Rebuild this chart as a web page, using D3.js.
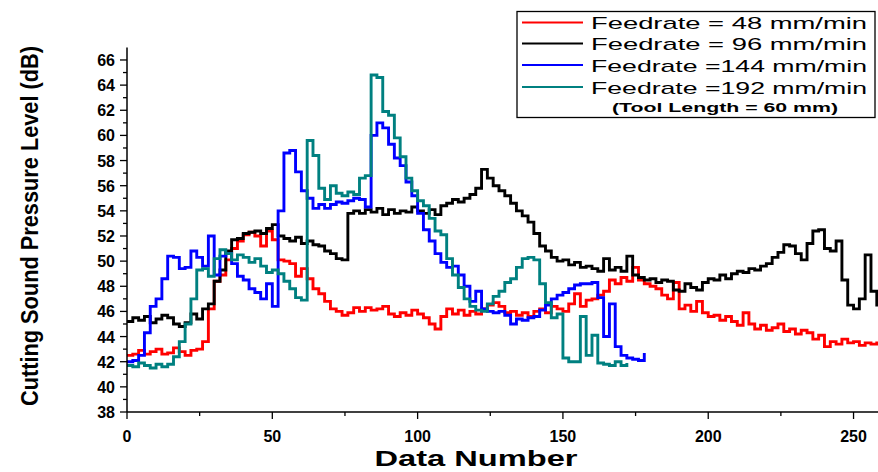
<!DOCTYPE html>
<html><head><meta charset="utf-8">
<script src="https://cdn.jsdelivr.net/npm/d3@7"></script>
<style>body{margin:0;background:#fff}svg{display:block}</style>
</head><body>
<svg id="c" width="878" height="472"></svg>
<script>
// Data (sampled every 2 data numbers)
const step = 2;
const red48 = [42.5,42.6,42.9,42.6,42.8,43.0,42.6,42.7,43.1,42.8,42.5,42.9,43.0,43.6,46.2,48.4,48.9,50.1,51.0,51.6,
52.1,52.3,52.0,51.2,52.4,51.7,50.1,50.0,49.8,48.8,49.4,48.6,47.8,47.4,46.8,46.2,46.0,45.7,45.9,46.3,
46.0,46.3,46.1,46.2,46.4,45.8,45.6,45.9,45.7,46.1,45.8,45.5,45.0,44.6,45.6,46.2,45.8,46.1,45.7,46.0,
45.8,46.2,46.5,46.7,46.4,45.9,46.0,45.7,45.9,45.6,46.0,46.2,45.9,46.4,46.2,46.0,46.6,47.4,46.4,46.9,
47.0,47.3,47.6,48.5,48.2,48.7,48.4,49.5,48.5,48.2,48.0,47.8,47.3,47.0,48.3,46.2,46.5,46.0,46.8,45.9,
45.6,45.7,45.3,45.6,45.2,44.9,45.9,45.0,44.6,44.9,44.5,44.7,45.0,44.4,44.6,44.2,44.5,44.3,43.8,44.1,
43.2,43.6,43.4,43.8,43.5,43.6,43.3,43.5,43.4,43.6];
const black96 = [45.2,45.5,45.3,45.6,45.1,45.4,45.7,45.5,45.0,44.8,45.1,45.8,45.4,46.2,46.6,48.4,49.3,50.8,51.7,51.8,
52.2,52.3,52.4,52.2,52.6,52.9,52.0,51.8,51.6,51.9,51.4,51.6,51.3,51.2,50.8,50.6,50.2,50.1,53.8,54.0,
53.8,54.1,53.9,54.2,53.7,54.1,53.8,54.0,53.9,54.3,54.0,53.8,54.1,53.7,54.4,54.6,54.9,54.7,55.0,55.3,
55.8,57.3,56.6,56.0,55.6,55.2,54.6,54.0,53.6,53.1,52.2,51.2,50.8,50.3,50.0,50.1,49.7,49.9,49.5,49.6,
49.4,49.2,50.2,49.3,49.5,49.2,50.4,48.9,48.7,48.5,48.6,48.3,48.5,48.4,47.7,47.6,48.2,47.9,47.7,48.3,
48.6,48.5,48.9,48.6,49.0,49.2,49.1,49.4,49.3,49.6,49.8,50.3,50.7,51.3,51.2,50.6,50.1,51.4,52.4,52.5,
51.0,50.8,51.6,48.5,46.5,46.2,47.0,50.5,47.6,46.4];
const blue144 = [42.0,42.1,42.5,44.3,46.4,47.0,48.6,50.4,50.3,49.4,49.5,50.8,50.3,49.6,52.0,48.9,50.4,50.6,49.8,48.8,
48.5,47.8,47.5,47.0,48.2,46.4,54.0,58.6,58.8,57.1,55.6,55.0,54.2,54.5,54.2,54.5,54.7,54.6,54.8,55.0,
54.9,54.3,60.0,61.0,60.6,59.3,58.2,57.6,56.3,55.2,53.8,52.5,51.6,50.6,49.9,49.5,49.6,48.9,48.0,46.8,
47.6,46.2,46.0,45.9,46.0,45.7,45.0,45.4,45.3,45.5,45.6,46.1,46.5,47.0,47.3,47.5,47.8,48.1,48.2,48.2,
48.3,47.1,44.0,46.6,43.2,42.5,42.3,42.2,42.1,42.7];
const teal192 = [41.7,41.6,41.9,41.7,41.5,41.8,41.6,41.8,42.4,43.6,45.0,47.0,49.3,49.4,48.8,50.2,50.9,50.6,50.1,50.5,
50.3,49.9,50.2,49.6,49.1,49.3,49.0,48.4,47.8,47.1,46.9,59.6,58.4,55.8,54.9,56.0,55.4,55.2,55.5,55.3,
56.6,56.8,64.8,64.6,61.9,61.6,59.8,58.3,56.6,55.6,54.8,54.4,53.4,52.4,52.1,50.2,48.9,47.9,47.0,46.4,
46.1,46.0,46.6,47.2,47.6,48.3,48.6,49.5,50.2,50.3,50.1,48.2,46.7,45.5,45.8,42.3,42.0,42.0,45.6,42.5,
44.1,41.9,41.8,41.7,42.0,41.7,41.9];

const seriesNames = ["Feedrate = 48 mm/min","Feedrate = 96 mm/min","Feedrate =144 mm/min","Feedrate =192 mm/min"];
const seriesColors = ["#ff0000","#000000","#0000ff","#008080"];
const seriesData = [red48, black96, blue144, teal192];
const legendNote = "(Tool Length = 60 mm)";
const xTicks = [0,50,100,150,200,250];
const yTicks = [38,40,42,44,46,48,50,52,54,56,58,60,62,64,66];
const xLabel = "Data Number";
const yLabel = "Cutting Sound Pressure Level (dB)";

const svg = d3.select("#c");
const x = d3.scaleLinear().domain([0,260]).range([127, 882.6]);
const y = d3.scaleLinear().domain([38,67]).range([412, 47.4]);

const line = d3.line().x((d,i)=>x(i*step)).y(d=>y(d)).curve(d3.curveStepAfter);

const plot = svg.append("g");
seriesData.forEach((arr,k)=>{
  plot.append("path").attr("d", line(arr)).attr("fill","none")
    .attr("stroke", seriesColors[k]).attr("stroke-width",2.9).attr("stroke-linejoin","miter");
});

// axes
const fontTick = "bold 16px 'Liberation Sans', Arial, sans-serif";
const xAxis = svg.append("g").attr("transform","translate(0,412)");
xAxis.append("line").attr("x1",127).attr("x2",878).attr("stroke","#000").attr("stroke-width",1.5);
xAxis.call(g=>{
  g.selectAll(".mj").data(xTicks).join("line").attr("class","mj").attr("x1",d=>x(d)).attr("x2",d=>x(d)).attr("y1",0).attr("y2",7).attr("stroke","#000").attr("stroke-width",1.3);
  g.selectAll(".mn").data(d3.range(25,260,50)).join("line").attr("class","mn").attr("x1",d=>x(d)).attr("x2",d=>x(d)).attr("y1",0).attr("y2",4).attr("stroke","#000").attr("stroke-width",1.3);
  g.selectAll(".tl").data(xTicks).join("text").attr("class","tl").attr("x",d=>x(d)).attr("y",30)
    .attr("text-anchor","middle").style("font",fontTick).text(d=>d);
});
const yAxis = svg.append("g").attr("transform","translate(127,0)");
yAxis.append("line").attr("y1",412).attr("y2",y(67)).attr("stroke","#000").attr("stroke-width",1.5);
yAxis.selectAll(".mj").data(yTicks).join("line").attr("class","mj").attr("x1",-7).attr("x2",0).attr("y1",d=>y(d)).attr("y2",d=>y(d)).attr("stroke","#000").attr("stroke-width",1.3);
yAxis.selectAll(".mn").data(d3.range(39,67,2)).join("line").attr("class","mn").attr("x1",-4).attr("x2",0).attr("y1",d=>y(d)).attr("y2",d=>y(d)).attr("stroke","#000").attr("stroke-width",1.3);
yAxis.selectAll(".tl").data(yTicks).join("text").attr("class","tl").attr("x",-12).attr("y",d=>y(d)+6)
  .attr("text-anchor","end").style("font",fontTick).text(d=>d);

// axis titles
svg.append("text").attr("x",476).attr("y",466).attr("text-anchor","middle")
  .style("font","bold 22px 'Liberation Sans', Arial, sans-serif")
  .attr("textLength",203).attr("lengthAdjust","spacingAndGlyphs").text(xLabel);
svg.append("text").attr("transform","translate(38,226) rotate(-90)").attr("text-anchor","middle")
  .style("font","bold 23px 'Liberation Sans', Arial, sans-serif")
  .attr("textLength",360).attr("lengthAdjust","spacingAndGlyphs").text(yLabel);

// legend
const lg = svg.append("g");
lg.append("rect").attr("x",517).attr("y",11.5).attr("width",358).attr("height",106)
  .attr("fill","#fff").attr("stroke","#000").attr("stroke-width",1.3);
const rowY = [22.5,43.5,65,87];
seriesNames.forEach((n,k)=>{
  lg.append("line").attr("x1",522).attr("x2",583).attr("y1",rowY[k]).attr("y2",rowY[k])
    .attr("stroke",seriesColors[k]).attr("stroke-width",2);
  lg.append("text").attr("x",591).attr("y",rowY[k]+6.5)
    .style("font","17px 'Liberation Sans', Arial, sans-serif")
    .attr("textLength",276).attr("lengthAdjust","spacingAndGlyphs").text(n);
});
lg.append("text").attr("x",725).attr("y",112).attr("text-anchor","middle")
  .style("font","bold 13px 'Liberation Sans', Arial, sans-serif")
  .attr("textLength",226).attr("lengthAdjust","spacingAndGlyphs").text(legendNote);
</script>
</body></html>
